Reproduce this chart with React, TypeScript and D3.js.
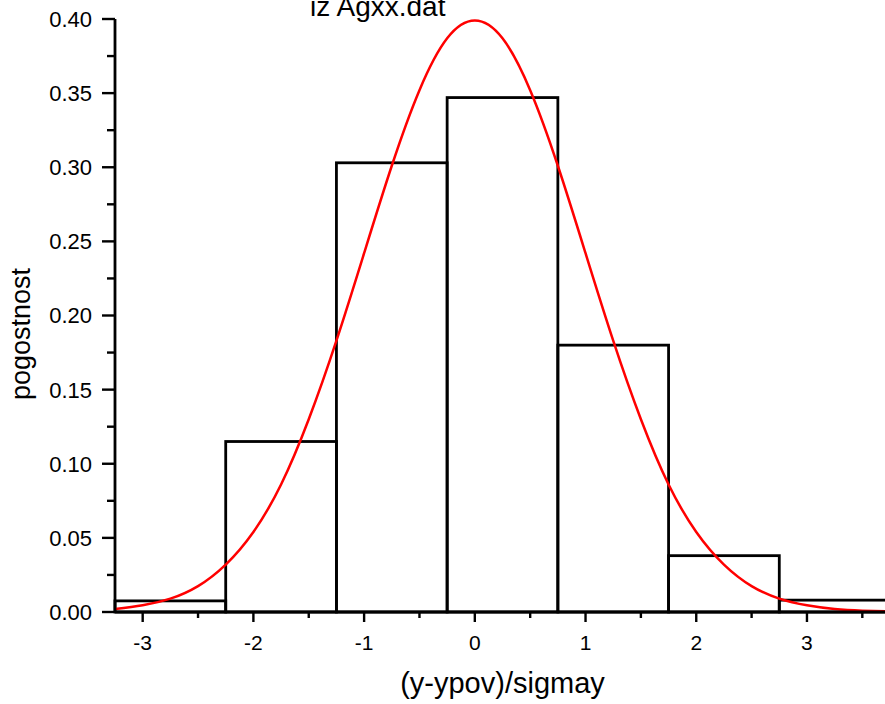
import React from "react";
import * as d3 from "d3";

const binStarts = [-3.25, -2.25, -1.25, -0.25, 0.75, 1.75, 2.75];
const binWidth = 1;
const binValues = [0.0075, 0.115, 0.303, 0.347, 0.18, 0.038, 0.008];

const curveX = [-3.25, -3, -2.75, -2.5, -2.25, -2, -1.75, -1.5, -1.25, -1, -0.75, -0.5, -0.25, 0, 0.25, 0.5, 0.75, 1, 1.25, 1.5, 1.75, 2, 2.25, 2.5, 2.75, 3, 3.25, 3.5, 3.75];
const curveY = [0.002, 0.0045, 0.009, 0.0175, 0.032, 0.054, 0.086, 0.13, 0.183, 0.242, 0.301, 0.352, 0.387, 0.399, 0.387, 0.352, 0.301, 0.242, 0.183, 0.13, 0.086, 0.054, 0.032, 0.0175, 0.009, 0.0045, 0.002, 0.0009, 0.0004];

const xMajor = [-3, -2, -1, 0, 1, 2, 3];
const xMinor = [-2.5, -1.5, -0.5, 0.5, 1.5, 2.5, 3.5];
const yMajor = [0, 0.05, 0.1, 0.15, 0.2, 0.25, 0.3, 0.35, 0.4];
const yMinor = [0.025, 0.075, 0.125, 0.175, 0.225, 0.275, 0.325, 0.375];

const title = "iz Agxx.dat";
const xTitle = "(y-ypov)/sigmay";
const yTitle = "pogostnost";

export default function App() {
  const W = 885, H = 704;
  const x = d3.scaleLinear().domain([-3.25, 3.75]).range([115, 890]);
  const y = d3.scaleLinear().domain([0, 0.4]).range([612, 19]);
  const font = "'Liberation Sans', Arial, sans-serif";
  const line = d3
    .line<number>()
    .x((_, i) => x(curveX[i]))
    .y((d) => y(d))
    .curve(d3.curveNatural);
  const sw = 2.8;
  return (
    <svg
      width={W}
      height={H}
      style={{ position: "absolute", left: 0, top: 0, background: "#fff" }}
      fontFamily={font}
    >
      <rect width={W} height={H} fill="#fff" />
      {binStarts.map((s, i) => (
        <rect
          key={i}
          x={x(s)}
          y={y(binValues[i])}
          width={x(s + binWidth) - x(s)}
          height={y(0) - y(binValues[i])}
          fill="none"
          stroke="#000"
          strokeWidth={sw}
        />
      ))}
      <path d={line(curveY) || ""} fill="none" stroke="#f00" strokeWidth={2.5} />
      {/* axes */}
      <line x1={x.range()[0]} x2={x.range()[1]} y1={y(0)} y2={y(0)} stroke="#000" strokeWidth={sw} />
      <line x1={x(-3.25)} x2={x(-3.25)} y1={y(0.4)} y2={y(0) + 1} stroke="#000" strokeWidth={sw} />
      {xMajor.map((t) => (
        <g key={"xm" + t}>
          <line x1={x(t)} x2={x(t)} y1={y(0)} y2={y(0) + 10} stroke="#000" strokeWidth={2.4} />
          <text x={x(t)} y={650} textAnchor="middle" fontSize={21}>
            {t}
          </text>
        </g>
      ))}
      {xMinor.map((t) => (
        <line key={"xn" + t} x1={x(t)} x2={x(t)} y1={y(0)} y2={y(0) + 6} stroke="#000" strokeWidth={2.4} />
      ))}
      {yMajor.map((t) => (
        <g key={"ym" + t}>
          <line x1={x(-3.25) - 13} x2={x(-3.25)} y1={y(t)} y2={y(t)} stroke="#000" strokeWidth={2.4} />
          <text x={92} y={y(t)} dy="0.36em" textAnchor="end" fontSize={22}>
            {t.toFixed(2)}
          </text>
        </g>
      ))}
      {yMinor.map((t) => (
        <line key={"yn" + t} x1={x(-3.25) - 8} x2={x(-3.25)} y1={y(t)} y2={y(t)} stroke="#000" strokeWidth={2.4} />
      ))}
      <text x={310} y={16} fontSize={28}>
        {title}
      </text>
      <text x={(x.range()[0] + x.range()[1]) / 2} y={693} textAnchor="middle" fontSize={29}>
        {xTitle}
      </text>
      <text transform="translate(30,334) rotate(-90)" textAnchor="middle" fontSize={27}>
        {yTitle}
      </text>
    </svg>
  );
}
